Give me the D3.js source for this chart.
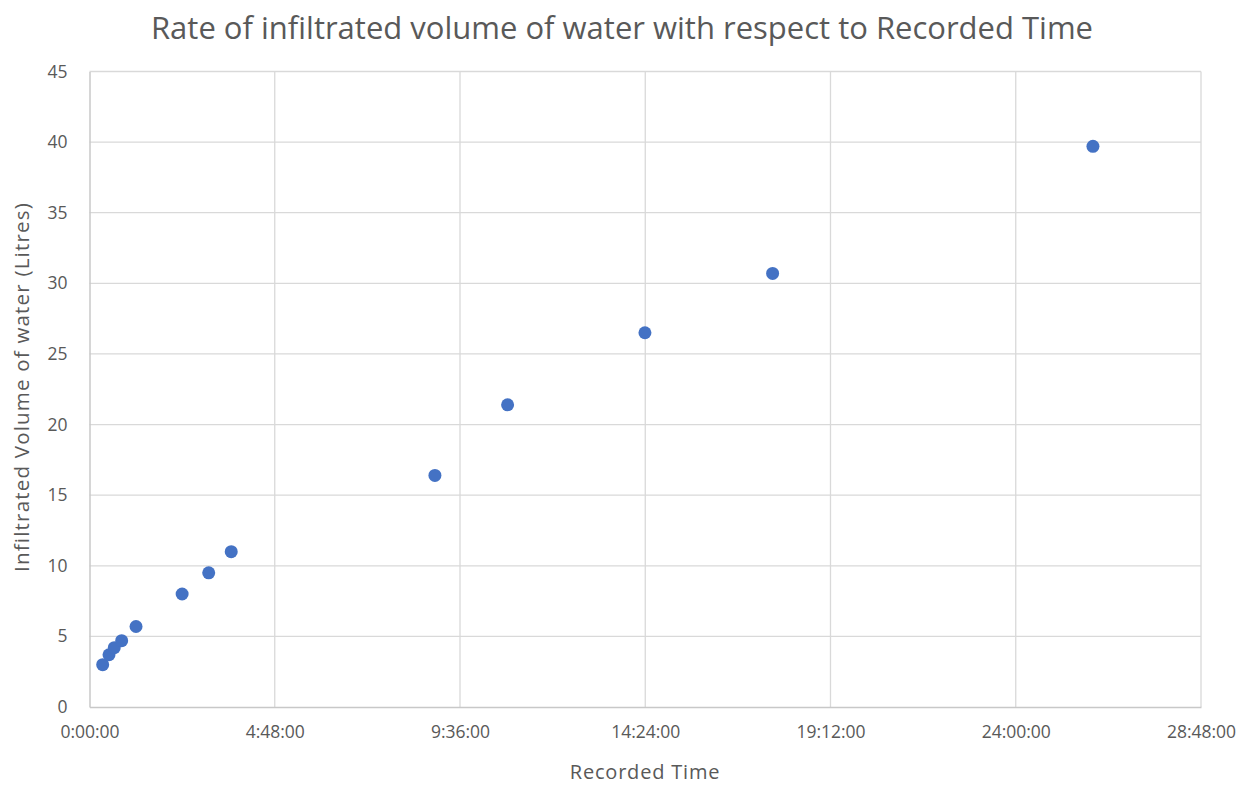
<!DOCTYPE html>
<html>
<head>
<meta charset="utf-8">
<script src="https://cdn.jsdelivr.net/npm/d3@7"></script>
<style>
  body { margin: 0; background: #fff; }
  text { font-family: "Open Sans", "Noto Sans", sans-serif; fill: #595959; }
</style>
</head>
<body>
<div id="chart"></div>
<script>
// recorded time (h:mm:ss) and infiltrated volume (litres)
const recordedTimes = ["0:20:30", "0:30:20", "0:38:30", "0:50:00", "1:12:20", "2:24:00", "3:05:20",
  "3:40:20", "8:57:00", "10:50:00", "14:23:30", "17:42:00", "26:00:00"];
const volumes = [3.0, 3.7, 4.2, 4.7, 5.7, 8.0, 9.5, 11.0, 16.4, 21.4, 26.5, 30.7, 39.7];
const yTicks = [0, 5, 10, 15, 20, 25, 30, 35, 40, 45];
const xTickLabels = ["0:00:00", "4:48:00", "9:36:00", "14:24:00", "19:12:00", "24:00:00", "28:48:00"];

const W = 1257, H = 785;
const margin = {left: 89.5, right: 56, top: 71.5, bottom: 78};

// excel keeps time as a fraction of a day
function toDays(s) {
  let p = s.split(':').map(Number)
  return (p[0] + p[1] / 60 + (p[2] || 0) / 3600) / 24
}
let points = recordedTimes.map((t, i) => ({t: toDays(t), v: volumes[i]}))
let xTickVals = xTickLabels.map(toDays)

let svg = d3.select('#chart').append('svg')
  .attr('width', W).attr('height', H)

svg.append('rect').attr('width', W).attr('height', H).attr('fill', '#fff')

let x = d3.scaleLinear().domain([0, 1.2]).range([margin.left, W - margin.right])
let y = d3.scaleLinear().domain([0, 45]).range([H - margin.bottom, margin.top])

// gridlines
svg.append('g').selectAll('line.h')
  .data(yTicks.slice(1))
  .enter().append('line')
  .attr('x1', x(0)).attr('x2', x(1.2))
  .attr('y1', d => y(d)).attr('y2', d => y(d))
  .attr('stroke', '#d9d9d9').attr('stroke-width', 1.3)

svg.append('g').selectAll('line.v')
  .data(xTickVals.slice(1))
  .enter().append('line')
  .attr('x1', d => x(d)).attr('x2', d => x(d))
  .attr('y1', y(0)).attr('y2', y(45))
  .attr('stroke', '#d9d9d9').attr('stroke-width', 1.3)

// axes
let yAxis = d3.axisLeft(y).tickValues(yTicks).tickSize(0).tickPadding(22)
let gy = svg.append('g').attr('transform', `translate(${x(0)},0)`).call(yAxis)
let xAxis = d3.axisBottom(x).tickValues(xTickVals).tickSize(0).tickPadding(19)
  .tickFormat((d, i) => xTickLabels[i])
let gx = svg.append('g').attr('transform', `translate(0,${y(0)})`).call(xAxis)

;[gx, gy].forEach(g => {
  g.select('.domain').attr('stroke', '#c8c8c8').attr('stroke-width', 1.5)
  g.selectAll('text').style('font-size', '17.5px').attr('fill', '#595959')
    .style('font-family', '"Open Sans", "Noto Sans", sans-serif')
})

// points
svg.append('g').selectAll('circle')
  .data(points)
  .enter().append('circle')
  .attr('cx', d => x(d.t))
  .attr('cy', d => y(d.v))
  .attr('r', 6.5)
  .attr('fill', '#4472c4')

// titles
svg.append('text')
  .attr('x', 622).attr('y', 39)
  .attr('text-anchor', 'middle')
  .style('font-size', '31px')
  .text('Rate of infiltrated volume of water with respect to Recorded Time')

svg.append('text')
  .attr('x', 645).attr('y', 779)
  .attr('text-anchor', 'middle')
  .style('font-size', '20px')
  .style('letter-spacing', '0.8px')
  .text('Recorded Time')

svg.append('text')
  .attr('transform', 'translate(29,387) rotate(-90)')
  .attr('text-anchor', 'middle')
  .style('font-size', '20.5px')
  .style('letter-spacing', '1.2px')
  .text('Infiltrated Volume of water (Litres)')
</script>
</body>
</html>
